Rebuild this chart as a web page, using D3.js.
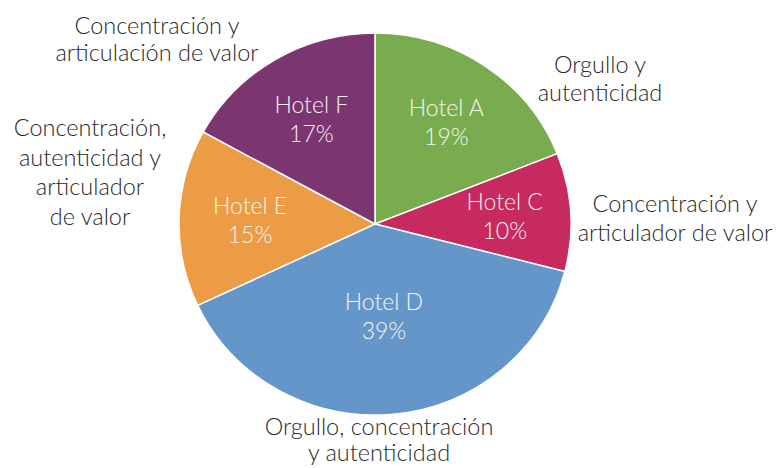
<!DOCTYPE html>
<html>
<head>
  <meta charset="utf-8">
  <script src="https://cdn.jsdelivr.net/npm/d3@7"></script>
  <style>
    body { margin: 0; background: #fff; }
    text { font-family: Lato, 'Noto Sans', sans-serif; font-weight: 300; }
  </style>
</head>
<body>
  <svg width="776" height="468" id="mainsvg"></svg>
  <script>
    const hotels = ['Hotel A', 'Hotel C', 'Hotel D', 'Hotel E', 'Hotel F'];
    const shares = [19, 10, 39, 15, 17];
    const colors = ['#79ac4f', '#c72a60', '#6596c9', '#eb9c45', '#7b3571'];
    const profiles = [
      ['Orgullo y', 'autenticidad'],
      ['Concentración y', 'articulador de valor'],
      ['Orgullo, concentración', 'y autenticidad'],
      ['Concentración,', 'autenticidad y', 'articulador', 'de valor'],
      ['Concentración y', 'articulación de valor']
    ];

    const svg = d3.select('#mainsvg');
    // the original pie is a little wider than tall
    const cx = 375, cy = 224, rx = 196, ry = 191;
    // where the inside labels sit (distance from centre) and the outside notes
    const labelR = [127, 130, 95, 125, 125];
    const notePos = [[600, 65], [675, 204], [379, 427], [90, 128], [157, 26]];
    const noteLine = [28, 29, 26, 29.5, 27];

    const table = hotels.map((h, i) => ({ hotel: h, share: shares[i], i }));
    const pie = d3.pie().value(d => d.share).sort(null);
    const arcs = pie(table);
    const arc = d3.arc().innerRadius(0).outerRadius(rx);

    const g = svg.append('g').attr('transform', `translate(${cx},${cy}) scale(1,${ry / rx})`);
    g.selectAll('path').data(arcs).join('path')
      .attr('d', arc)
      .attr('fill', d => colors[d.data.i])
      .attr('stroke', '#fff')
      .attr('stroke-width', 1.5);

    const inner = svg.append('g').attr('transform', `translate(${cx},${cy})`)
      .selectAll('.inlabel').data(arcs).join('text')
      .attr('class', 'inlabel')
      .attr('transform', d => {
        const c = d3.arc().innerRadius(labelR[d.data.i]).outerRadius(labelR[d.data.i]).centroid(d);
        return `translate(${c[0]},${c[1] * ry / rx})`;
      })
      .attr('text-anchor', 'middle')
      .attr('fill', '#f6f6ee')
      .style('font-size', '23px');
    inner.append('tspan').attr('x', 0).attr('y', -6).text(d => d.data.hotel);
    inner.append('tspan').attr('x', 0).attr('y', 23).text(d => d.data.share + '%');

    const notes = svg.selectAll('.note').data(profiles).join('text')
      .attr('class', 'note')
      .attr('text-anchor', 'middle')
      .attr('fill', '#2a2a2a')
      .style('font-size', '23.5px');
    notes.each(function (lines, i) {
      d3.select(this).selectAll('tspan').data(lines).join('tspan')
        .attr('x', notePos[i][0])
        .attr('y', (l, k) => notePos[i][1] + 8 + k * noteLine[i])
        .text(l => l);
    });
  </script>
</body>
</html>
